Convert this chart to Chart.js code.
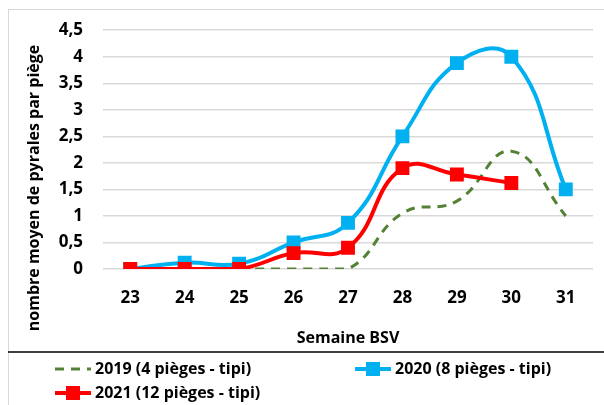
<!DOCTYPE html>
<html>
<head>
<meta charset="utf-8">
<script src="https://cdn.jsdelivr.net/npm/chart.js@4"></script>
<style>
  html, body { margin: 0; padding: 0; background: #fff; }
  #wrap { width: 604px; height: 405px; position: relative; }
</style>
</head>
<body>
<div id="wrap"><canvas id="myChart"></canvas></div>
<script>
const weeks = ['23', '24', '25', '26', '27', '28', '29', '30', '31'];
const yTicks = [0, 0.5, 1, 1.5, 2, 2.5, 3, 3.5, 4, 4.5];
const s2019 = [null, null, 0, 0, 0, 1.05, 1.28, 2.22, 1.0];
const s2020 = [0, 0.12, 0.1, 0.5, 0.87, 2.5, 3.88, 4.0, 1.5];
const s2021 = [0, 0, 0, 0.3, 0.4, 1.9, 1.78, 1.62, null];
const seriesNames = ['2019 (4 pièges - tipi)', '2020 (8 pièges - tipi)', '2021 (12 pièges - tipi)'];

const FONT = '"Open Sans", Lato, sans-serif';

// frame, legend box and rotated y title
const extras = {
    id: 'extras',
    afterDraw(chart) {
        const c = chart.ctx;
        c.save();
        c.strokeStyle = '#d9d9d9';
        c.lineWidth = 1;
        c.strokeRect(8.5, 9.5, 600, 400);
        c.strokeStyle = '#000';
        c.lineWidth = 1.5;
        c.beginPath();
        c.moveTo(8, 352);
        c.lineTo(604, 352);
        c.stroke();

        // y title
        c.translate(34, 188);
        c.rotate(-Math.PI / 2);
        c.font = 'bold 16px ' + FONT;
        c.fillStyle = '#000';
        c.textAlign = 'center';
        c.textBaseline = 'middle';
        c.fillText('nombre moyen de pyrales par piège', 0, 0);
        c.restore();

        // legend
        const pos = [[55, 369], [355, 369], [55, 393]];
        chart.data.datasets.forEach((ds, i) => {
            const [x, y] = pos[i];
            c.save();
            c.strokeStyle = ds.borderColor;
            c.lineWidth = ds.borderWidth;
            c.setLineDash(ds.borderDash || []);
            c.beginPath();
            c.moveTo(x, y);
            c.lineTo(x + 36, y);
            c.stroke();
            c.setLineDash([]);
            if (ds.pointRadius > 0) {
                c.fillStyle = ds.borderColor;
                c.fillRect(x + 18 - 7, y - 7, 14, 14);
            }
            c.fillStyle = '#000';
            c.font = 'bold 16px ' + FONT;
            c.textBaseline = 'middle';
            c.fillText(ds.label, x + 40, y);
            c.restore();
        });
    }
};

new Chart(document.getElementById('myChart'), {
    type: 'line',
    data: {
        labels: weeks,
        datasets: [
            {
                label: seriesNames[0],
                data: s2019,
                borderColor: '#548235',
                borderWidth: 3,
                borderDash: [9, 7],
                pointRadius: 0,
                tension: 0.45,
                order: 2
            },
            {
                label: seriesNames[1],
                data: s2020,
                borderColor: '#00B0F0',
                backgroundColor: '#00B0F0',
                borderWidth: 4,
                pointStyle: 'rect',
                pointRadius: 7,
                tension: 0.45,
                order: 1
            },
            {
                label: seriesNames[2],
                data: s2021,
                borderColor: '#FF0000',
                backgroundColor: '#FF0000',
                borderWidth: 4,
                pointStyle: 'rect',
                pointRadius: 7,
                tension: 0.45,
                order: 0
            }
        ]
    },
    options: {
        responsive: true,
        maintainAspectRatio: false,
        animation: false,
        layout: { padding: { left: 0, right: 3, top: 24, bottom: 53 } },
        plugins: {
            legend: { display: false },
            tooltip: { enabled: false }
        },
        scales: {
            x: {
                offset: true,
                grid: { display: false },
                border: { display: false },
                ticks: { color: '#000', font: { family: FONT, size: 17, weight: 'bold' }, padding: 11, maxRotation: 0 },
                title: { display: true, text: 'Semaine BSV', color: '#000', font: { family: FONT, size: 16, weight: 'bold' }, padding: { top: 11 } },
                afterFit(axis) { axis.height = 83; }
            },
            y: {
                min: 0,
                max: 4.5,
                afterBuildTicks(axis) { axis.ticks = yTicks.map(v => ({ value: v })); },
                grid: { color: '#d9d9d9', lineWidth: 1.5, drawTicks: false },
                border: { display: false },
                ticks: {
                    color: '#000',
                    padding: 20,
                    font: { family: FONT, size: 17, weight: 'bold' },
                    callback: v => String(v).replace('.', ',')
                },
                afterFit(axis) { axis.width = 103; }
            }
        }
    },
    plugins: [extras]
});
</script>
</body>
</html>
